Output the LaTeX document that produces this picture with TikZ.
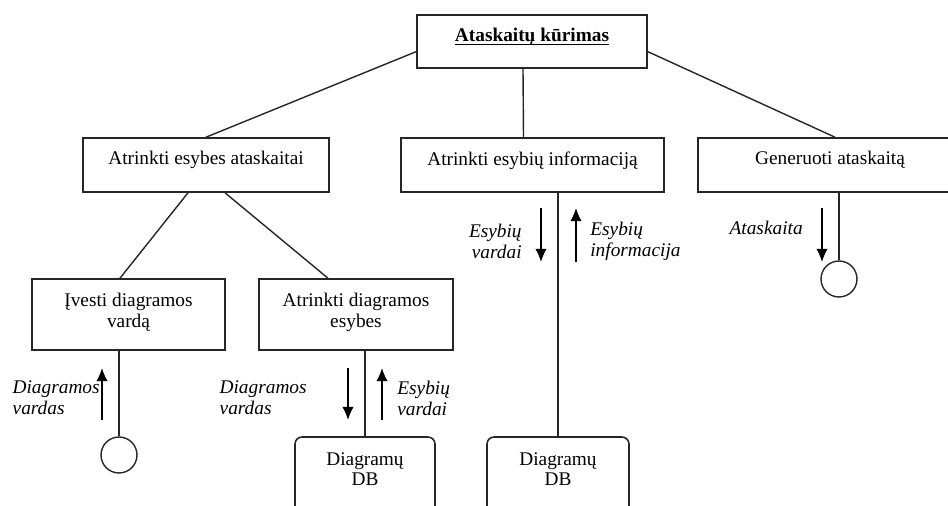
\documentclass[tikz,border=0pt]{standalone}
\usepackage{fontspec}
\setmainfont{Liberation Serif}
\usetikzlibrary{arrows.meta,positioning}

\begin{document}
\begin{tikzpicture}[x=0.02cm,y=-0.02cm,
    font=\fontsize{11}{11.5}\selectfont,
    box/.style={draw=black!85,line width=0.9pt,inner sep=0pt},
    dbbox/.style={box,rounded corners=4pt},
    term/.style={draw=black!85,line width=0.8pt,circle,inner sep=0pt,minimum size=0.72cm},
    txt/.style={inner sep=0pt,align=center},
    lbl/.style={inner sep=0pt,font=\fontsize{11}{12}\selectfont\itshape},
    link/.style={draw=black!85,line width=0.8pt},
    flow/.style={line width=0.8pt,-{Latex[length=7.5pt,width=6.5pt]}}]
  \clip (0,0) rectangle (948,506);
  % boxes
  \node[box,minimum width=4.6cm,minimum height=1.06cm] (top) at (532,41.5) {};
  \node[box,minimum width=4.92cm,minimum height=1.08cm] (sel) at (206,165) {};
  \node[box,minimum width=5.26cm,minimum height=1.08cm] (info) at (532.5,165) {};
  \node[box,minimum width=5.28cm,minimum height=1.08cm] (gen) at (830,165) {};
  \node[box,minimum width=3.86cm,minimum height=1.42cm] (name) at (128.5,314.5) {};
  \node[box,minimum width=3.88cm,minimum height=1.42cm] (ent) at (356,314.5) {};
  \node[dbbox,minimum width=2.8cm,minimum height=1.6cm] (dba) at (365,477) {};
  \node[dbbox,minimum width=2.84cm,minimum height=1.6cm] (dbb) at (558,477) {};
  \node[term] (usra) at (119,455) {};
  \node[term] (usrb) at (839,279) {};
  % texts
  \node[txt,anchor=north,below=0.27cm of top.north] (toptxt) {\underline{\raisebox{0pt}[\height][0pt]{\textbf{Ataskaitų kūrimas}}}};
  \node[txt,anchor=north,below=0.28cm of sel.north] (seltxt) {Atrinkti esybes ataskaitai};
  \node[txt,anchor=north,below=0.28cm of info.north] (infotxt) {Atrinkti esybių informaciją};
  \node[txt,anchor=north,below=0.28cm of gen.north] (gentxt) {Generuoti ataskaitą};
  \node[txt,anchor=north,below=0.3cm of name.north] (nametxt) {Įvesti diagramos\\vardą};
  \node[txt,anchor=north,below=0.3cm of ent.north] (enttxt) {Atrinkti diagramos\\esybes};
  \node[txt,anchor=north,below=0.32cm of dba.north] (dbatxt) {Diagramų\\DB};
  \node[txt,anchor=north,below=0.32cm of dbb.north] (dbbtxt) {Diagramų\\DB};
  % tree lines
  \draw[link] (top.185) -- (sel.north);
  \draw[link] ([xshift=-0.18cm]top.south) -- ([xshift=-0.18cm]info.north);
  \draw[link] (top.-5) -- ([xshift=0.1cm]gen.north);
  \draw[link] ([xshift=-0.36cm]sel.south) -- ([xshift=-0.17cm]name.north);
  \draw[link] ([xshift=0.38cm]sel.south) -- ([xshift=-0.56cm]ent.north);
  \draw[link] (usra.north) -- (usra.north |- name.south);
  \draw[link] (dba.north) -- (dba.north |- ent.south);
  \draw[link] (dbb.north) -- (dbb.north |- info.south);
  \draw[link] (usrb.north) -- (usrb.north |- gen.south);
  % data flows
  \coordinate (fa1) at (102,420); \coordinate (fa2) at (102,368);
  \coordinate (fb1) at (348,368); \coordinate (fb2) at (348,420);
  \coordinate (fc1) at (382,420); \coordinate (fc2) at (382,368);
  \coordinate (fd1) at (541,208); \coordinate (fd2) at (541,262);
  \coordinate (fe1) at (576,262); \coordinate (fe2) at (576,208);
  \coordinate (ff1) at (822,208); \coordinate (ff2) at (822,262);
  \draw[flow] (fa1) -- (fa2);
  \draw[flow] (fb1) -- (fb2);
  \draw[flow] (fc1) -- (fc2);
  \draw[flow] (fd1) -- (fd2);
  \draw[flow] (fe1) -- (fe2);
  \draw[flow] (ff1) -- (ff2);
  \node[lbl,align=left,anchor=east] (la) at (100,398) {Diagramos\\vardas};
  \node[lbl,align=left,anchor=east] (lb) at (307,398) {Diagramos\\vardas};
  \node[lbl,align=left,anchor=west] (lc) at (397,398) {Esybių\\vardai};
  \node[lbl,align=right,anchor=east] (ld) at (522,241) {Esybių\\vardai};
  \node[lbl,align=left,anchor=west] (le) at (590,241) {Esybių\\informacija};
  \node[lbl,anchor=east] (lf) at (803,228) {Ataskaita};
\end{tikzpicture}
\end{document}
